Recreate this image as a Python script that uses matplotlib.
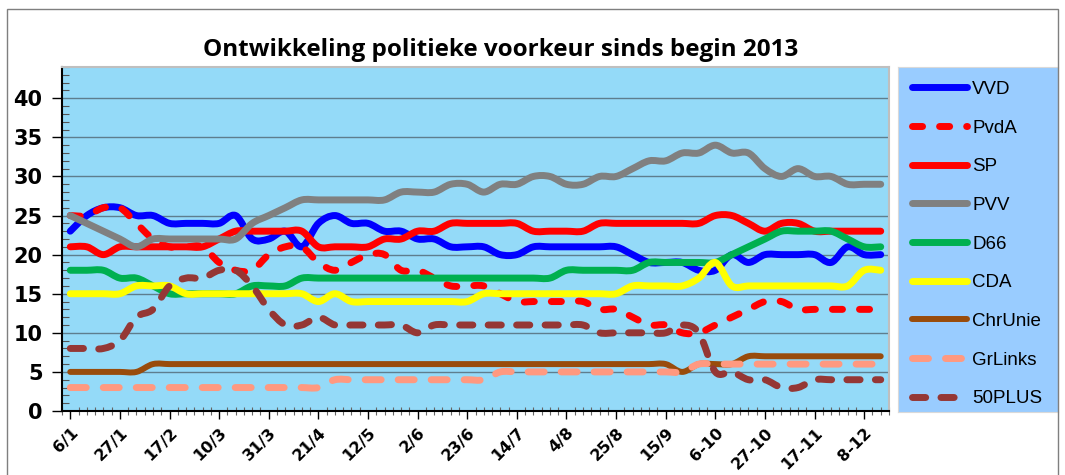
import numpy as np
import matplotlib
matplotlib.use("Agg")
import matplotlib.pyplot as plt
from matplotlib.path import Path
from matplotlib.patches import PathPatch, Rectangle
from matplotlib.lines import Line2D

# Weekly poll results 2013 (seats), one value per week from 6/1 to 15/12
vvd = [23, 25, 26, 26, 25, 25, 24, 24, 24, 24, 25, 22, 22, 23, 21, 24, 25, 24, 24, 23,
       23, 22, 22, 21, 21, 21, 20, 20, 21, 21, 21, 21, 21, 21, 20, 19, 19, 19, 18, 18,
       20, 19, 20, 20, 20, 20, 19, 21, 20, 20]
pvda = [25, 25, 26, 26, 24, 22, 21, 21, 21, 19, 18, 18, 20, 21, 21, 19, 18, 19, 20, 20,
        18, 18, 17, 16, 16, 16, 15, 14, 14, 14, 14, 14, 13, 13, 12, 11, 11, 10, 10, 11,
        12, 13, 14, 14, 13, 13, 13, 13, 13, 13]
sp = [21, 21, 20, 21, 21, 21, 21, 21, 21, 22, 23, 23, 23, 23, 23, 21, 21, 21, 21, 22,
      22, 23, 23, 24, 24, 24, 24, 24, 23, 23, 23, 23, 24, 24, 24, 24, 24, 24, 24, 25,
      25, 24, 23, 24, 24, 23, 23, 23, 23, 23]
pvv = [25, 24, 23, 22, 21, 22, 22, 22, 22, 22, 22, 24, 25, 26, 27, 27, 27, 27, 27, 27,
       28, 28, 28, 29, 29, 28, 29, 29, 30, 30, 29, 29, 30, 30, 31, 32, 32, 33, 33, 34,
       33, 33, 31, 30, 31, 30, 30, 29, 29, 29]
d66 = [18, 18, 18, 17, 17, 16, 15, 15, 15, 15, 15, 16, 16, 16, 17, 17, 17, 17, 17, 17,
       17, 17, 17, 17, 17, 17, 17, 17, 17, 17, 18, 18, 18, 18, 18, 19, 19, 19, 19, 19,
       20, 21, 22, 23, 23, 23, 23, 22, 21, 21]
cda = [15, 15, 15, 15, 16, 16, 16, 15, 15, 15, 15, 15, 15, 15, 15, 14, 15, 14, 14, 14,
       14, 14, 14, 14, 14, 15, 15, 15, 15, 15, 15, 15, 15, 15, 16, 16, 16, 16, 17, 19,
       16, 16, 16, 16, 16, 16, 16, 16, 18, 18]
chrunie = [5, 5, 5, 5, 5, 6, 6, 6, 6, 6, 6, 6, 6, 6, 6, 6, 6, 6, 6, 6,
           6, 6, 6, 6, 6, 6, 6, 6, 6, 6, 6, 6, 6, 6, 6, 6, 6, 5, 6, 6,
           6, 7, 7, 7, 7, 7, 7, 7, 7, 7]
grlinks = [3, 3, 3, 3, 3, 3, 3, 3, 3, 3, 3, 3, 3, 3, 3, 3, 4, 4, 4, 4,
           4, 4, 4, 4, 4, 4, 5, 5, 5, 5, 5, 5, 5, 5, 5, 5, 5, 5, 6, 6,
           6, 6, 6, 6, 6, 6, 6, 6, 6, 6]
plus50 = [8, 8, 8, 9, 12, 13, 16, 17, 17, 18, 18, 16, 13, 11, 11, 12, 11, 11, 11, 11,
          11, 10, 11, 11, 11, 11, 11, 11, 11, 11, 11, 11, 10, 10, 10, 10, 10, 11, 10, 5,
          5, 4, 4, 3, 3, 4, 4, 4, 4, 4]

tick_labels = ['6/1', '27/1', '17/2', '10/3', '31/3', '21/4', '12/5', '2/6', '23/6',
               '14/7', '4/8', '25/8', '15/9', '6-10', '27-10', '17-11', '8-12']

series = [
    ('VVD', vvd, '#0000FF', 5, '-'),
    ('PvdA', pvda, '#FF0000', 5, (0, (1.45, 2.45))),
    ('SP', sp, '#FF0000', 5, '-'),
    ('PVV', pvv, '#808080', 5, '-'),
    ('D66', d66, '#00B050', 5, '-'),
    ('CDA', cda, '#FFFF00', 5, '-'),
    ('ChrUnie', chrunie, '#994C0C', 4.3, '-'),
    ('GrLinks', grlinks, '#FF9980', 5, (0, (2.3, 2.45))),
    ('50PLUS', plus50, '#953735', 5, (0, (1.9, 2.2))),
]


# smoothed line like Excel (Catmull-Rom as cubic Bezier segments)
def smooth_path(x, y):
    pts = np.column_stack([x, y]).astype(float)
    n = len(pts)
    verts = [pts[0]]
    codes = [Path.MOVETO]
    for i in range(n - 1):
        p0 = pts[max(i - 1, 0)]
        p1 = pts[i]
        p2 = pts[i + 1]
        p3 = pts[min(i + 2, n - 1)]
        verts += [p1 + (p2 - p0) / 6, p2 - (p3 - p1) / 6, p2]
        codes += [Path.CURVE4] * 3
    return Path(verts, codes)


fig = plt.figure(figsize=(10.65, 4.75), dpi=100)
fig.patches.append(Rectangle((7 / 1065, -0.05), 1051 / 1065, 1.031, transform=fig.transFigure,
                             fill=False, edgecolor='#7F7F7F', lw=1))

ax = fig.add_axes([62 / 1065, 1 - 411 / 475, 827 / 1065, 344 / 475])
ax.set_facecolor('#94DAF8')

weeks = np.arange(len(vvd))
handles = []
for name, vals, color, lw, ls in series:
    patch = PathPatch(smooth_path(weeks, vals), fill=False, edgecolor=color, lw=lw,
                      linestyle=ls, capstyle='round', joinstyle='round', zorder=3)
    ax.add_patch(patch)
    handles.append(Line2D([], [], color=color, lw=lw, linestyle=ls,
                          solid_capstyle='round', dash_capstyle='round'))

ax.set_xlim(-0.5, len(vvd) - 0.5)
ax.set_ylim(0, 44)

ax.set_yticks(range(0, 45, 5)[:9])
ax.set_yticks(range(0, 45), minor=True)
ax.yaxis.grid(True, which='major', color='#5E7E8E', lw=1)
ax.set_axisbelow(True)
ax.tick_params(axis='y', which='major', direction='out', length=7, width=1, pad=7,
               labelsize=15)
ax.tick_params(axis='y', which='minor', direction='in', length=5, width=0.8, color='#555555')
for lab in ax.get_yticklabels():
    lab.set_fontweight('bold')

ax.set_xticks(np.arange(0, len(vvd), 3))
ax.set_xticks(np.arange(-0.5, len(vvd), 0.5), minor=True)
ax.set_xticklabels(tick_labels, rotation=45, ha='right', va='top',
                   rotation_mode='anchor', fontsize=11.5, fontweight='bold')
ax.tick_params(axis='x', which='major', direction='out', length=6, width=1, pad=4)
ax.tick_params(axis='x', which='minor', direction='inout', length=6, width=0.8,
               color='#666666')

for s in ['left', 'bottom']:
    ax.spines[s].set_color('black')
    ax.spines[s].set_linewidth(1.5)
for s in ['top', 'right']:
    ax.spines[s].set_color('#BFBFBF')
    ax.spines[s].set_linewidth(1.5)

fig.text(501 / 1065, 1 - 50 / 475, 'Ontwikkeling politieke voorkeur sinds begin 2013',
         ha='center', va='center', fontsize=17.5, fontweight='bold', family='Open Sans')

# legend panel
lax = fig.add_axes([898 / 1065, 1 - 412 / 475, 160 / 1065, 345 / 475])
lax.set_facecolor('#99CCFF')
lax.set_xticks([])
lax.set_yticks([])
for s in lax.spines.values():
    s.set_color('#D9D9D9')
lax.legend(handles, [s[0] for s in series], loc='upper left',
           bbox_to_anchor=(0.09, 0.96), frameon=False, borderpad=0, borderaxespad=0,
           handlelength=2.9, handletextpad=0.3, labelspacing=1.15,
           prop={'family': 'Liberation Sans', 'size': 13.5})

fig.savefig('out.png', dpi=100)
